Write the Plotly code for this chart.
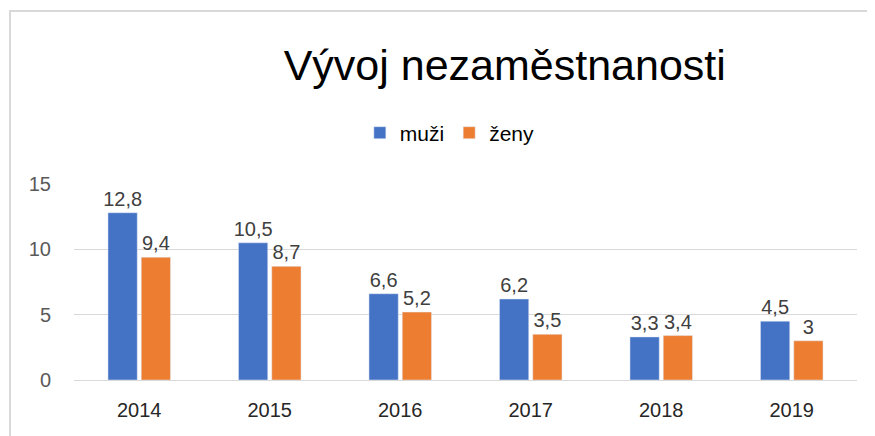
import plotly.graph_objects as go

# Unemployment by year
years = ["2014", "2015", "2016", "2017", "2018", "2019"]
muzi = [12.8, 10.5, 6.6, 6.2, 3.3, 4.5]
zeny = [9.4, 8.7, 5.2, 3.5, 3.4, 3.0]


def cz(v):
    s = f"{v:g}"
    return s.replace(".", ",")


font_name = "Liberation Sans"

fig = go.Figure()
fig.add_trace(go.Bar(x=years, y=muzi, name="muži",
                     marker_color="#4472C4",
                     text=[cz(v) for v in muzi], textposition="outside",
                     textfont=dict(size=20, color="#404040"),
                     constraintext="none", cliponaxis=False))
fig.add_trace(go.Bar(x=years, y=zeny, name="ženy",
                     marker_color="#ED7D31",
                     text=[cz(v) for v in zeny], textposition="outside",
                     textfont=dict(size=20, color="#404040"),
                     constraintext="none", cliponaxis=False))

fig.update_xaxes(showgrid=False, showline=True, linecolor="#D9D9D9",
                 linewidth=1, ticks="", automargin=False,
                 ticklabelstandoff=12,
                 tickfont=dict(size=20, color="#262626"))
fig.update_yaxes(range=[0, 15], tickvals=[0, 5, 10, 15],
                 gridcolor="#D9D9D9", gridwidth=1, zeroline=False,
                 ticklabelstandoff=22, automargin=False,
                 tickfont=dict(size=20, color="#595959"))

# light chart frame (top and left edge visible in reference)
fig.add_shape(type="rect", xref="paper", yref="paper",
              x0=-0.0817, x1=1.2, y0=-0.6, y1=1.883,
              line=dict(color="#D9D9D9", width=2), fillcolor="rgba(0,0,0,0)",
              layer="below")

# page body has an 8px margin, so the figure is sized/offset to compensate
fig.update_layout(
    width=867, height=428,
    margin=dict(l=66, r=18, t=176, b=56, autoexpand=False),
    paper_bgcolor="white", plot_bgcolor="white",
    font=dict(family=font_name),
    title=dict(text="Vývoj nezaměstnanosti", x=0.573, xanchor="center",
               y=1 - 57 / 428, yanchor="middle",
               font=dict(size=43, color="#000000", family=font_name)),
    legend=dict(orientation="h", x=0.48, xanchor="center", y=1.26,
                yanchor="middle", font=dict(size=21, color="#000000"),
                itemwidth=30, traceorder="normal"),
    bargap=0.49, bargroupgap=0.12,
    showlegend=True,
)

fig.write_html("out.html")
